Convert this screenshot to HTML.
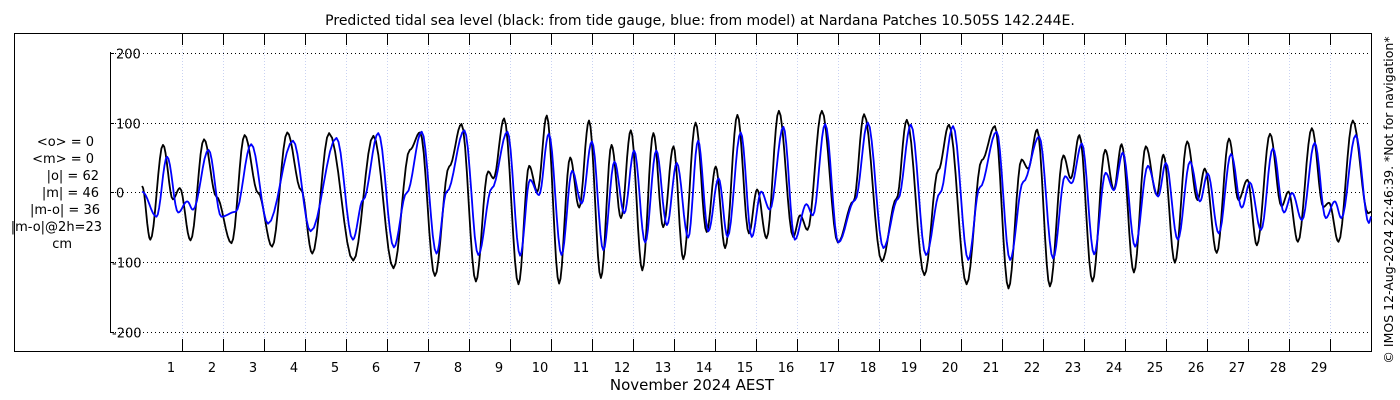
<!DOCTYPE html>
<html><head><meta charset="utf-8"><style>
body{margin:0;background:#fff}
svg{display:block;font-family:"DejaVu Sans","Liberation Sans",sans-serif}
</style></head><body>
<svg id="chart" width="1400" height="400" viewBox="0 0 1400 400" xmlns="http://www.w3.org/2000/svg">
<text x="700" y="25" font-size="14" text-anchor="middle">Predicted tidal sea level (black: from tide gauge, blue: from model) at Nardana Patches 10.505S 142.244E.</text>
<rect x="14.5" y="33.5" width="1357" height="318" fill="none" stroke="#000" stroke-width="1"/>
<g id="grid"></g>
<line x1="110.5" y1="52" x2="110.5" y2="332" stroke="#000"/>
<g id="ticks"></g>
<g id="series"></g>
<g font-size="13" text-anchor="end">
<text x="94" y="146">&lt;o&gt; = 0</text>
<text x="94" y="163">&lt;m&gt; = 0</text>
<text x="99" y="180">|o| = 62</text>
<text x="99" y="197">|m| = 46</text>
<text x="100" y="214">|m-o| = 36</text>
<text x="102" y="231">|m-o|@2h=23</text>
<text x="72" y="248">cm</text>
</g>
<text x="692" y="390" font-size="15" text-anchor="middle">November 2024 AEST</text>
<text transform="translate(1393,200) rotate(-90)" font-size="12.5" text-anchor="middle">© IMOS 12-Aug-2024 22:46:39. *Not for navigation*</text>
</svg>
<script>
const yTicks=[200,100,0,-100,-200];
const dayLabels=[1,2,3,4,5,6,7,8,9,10,11,12,13,14,15,16,17,18,19,20,21,22,23,24,25,26,27,28,29];
// black (gauge) extrema: time in days from Nov 1 00:00, value cm
const obsT=[0.02,0.22,0.53,0.77,0.94,1.20,1.53,1.83,2.20,2.52,2.85,3.19,3.56,3.90,4.17,4.58,5.17,5.66,6.15,6.55,6.80,7.16,7.51,7.81,8.16,8.46,8.59,8.85,9.20,9.46,9.66,9.89,10.19,10.46,10.68,10.92,11.21,11.47,11.70,11.94,12.22,12.49,12.73,12.98,13.22,13.52,13.79,14.01,14.24,14.54,14.82,15.02,15.25,15.55,15.90,16.07,16.25,16.60,16.99,17.37,17.63,18.06,18.42,18.67,19.10,19.44,19.70,20.13,20.50,20.82,21.15,21.47,21.63,21.85,22.16,22.49,22.67,22.88,23.20,23.51,23.72,23.91,24.21,24.50,24.77,24.93,25.21,25.51,25.76,25.94,26.23,26.53,26.76,26.98,27.21,27.53,27.81,27.98,28.21,28.55,28.83,28.97,29.20,29.55,29.92,30.0];
const obsV=[9,-68,68,-10,6,-69,76,-6,-73,82,-1,-78,86,3,-88,85,-98,81,-109,61,86,-120,37,98,-128,30,20,106,-132,38,1,110,-131,50,-22,103,-123,68,-37,89,-112,85,-50,66,-96,100,-57,37,-80,111,-59,4,-66,117,-64,-33,-54,117,-72,-13,112,-99,-9,104,-119,32,97,-132,46,95,-138,47,34,90,-135,53,20,82,-128,61,4,69,-115,66,-4,54,-101,73,-11,34,-87,77,-11,18,-76,84,-20,1,-71,92,-21,-15,-71,103,-30,-28];
// blue (model) extrema
const modT=[0.02,0.37,0.63,0.90,1.12,1.26,1.64,1.95,2.30,2.68,3.09,3.70,4.13,4.76,5.16,5.41,5.78,6.16,6.47,6.84,7.20,7.45,7.88,8.22,8.55,8.93,9.24,9.48,9.70,9.94,10.25,10.51,10.74,10.99,11.27,11.54,11.78,12.02,12.29,12.56,12.82,13.06,13.34,13.58,13.83,14.08,14.30,14.62,14.89,15.12,15.33,15.66,15.94,16.22,16.38,16.68,17.00,17.41,17.72,18.10,18.46,18.77,19.14,19.48,19.80,20.17,20.45,20.86,21.19,21.51,21.90,22.24,22.53,22.69,22.94,23.24,23.52,23.72,23.94,24.24,24.55,24.80,24.99,25.28,25.58,25.82,26.01,26.28,26.58,26.84,27.04,27.31,27.60,27.87,28.07,28.31,28.62,28.89,29.11,29.27,29.62,29.94,30.0];
const modV=[1,-35,51,-29,-13,-25,61,-35,-28,69,-45,74,-56,78,-68,-11,85,-79,-1,87,-88,1,89,-90,6,87,-91,18,-4,84,-90,31,-16,73,-83,44,-30,60,-72,60,-47,42,-65,74,-56,20,-64,86,-64,1,-25,94,-68,-17,-33,98,-72,-11,100,-80,-9,97,-90,-1,95,-97,7,87,-97,15,80,-95,23,13,70,-89,28,3,57,-78,38,-6,42,-68,44,-13,27,-59,55,-22,14,-54,63,-29,-1,-40,71,-37,-13,-37,82,-44,-35];

const NS='http://www.w3.org/2000/svg';
const X0=141.3, DX=41.0, Y0=192.3, SY=0.697;
const xs=t=>X0+t*DX;
const ys=v=>Y0-v*SY;
function mk(tag,attrs,parent){const e=document.createElementNS(NS,tag);for(const k in attrs)e.setAttribute(k,attrs[k]);parent.appendChild(e);return e;}
const grid=document.getElementById('grid'), ticks=document.getElementById('ticks'), series=document.getElementById('series');
for(let d=1; d<30; d++){
  const x=Math.round(xs(d))+0.5;
  const g=mk('line',{x1:x,y1:34,x2:x,y2:351,stroke:'#c9d2f2','stroke-width':1,'stroke-dasharray':'1,2'},grid);
  
  
  const t1=mk('line',{x1:x,y1:33,x2:x,y2:45,stroke:'#000'},ticks);
  
  
  const t2=mk('line',{x1:x,y1:339,x2:x,y2:352,stroke:'#000'},ticks);
  
  
}
dayLabels.forEach(d=>{
  const t=mk('text',{x:xs(d-1)+29.7,y:372,'font-size':13,'text-anchor':'middle'},ticks);
  
  
  t.textContent=d;
});
yTicks.forEach(v=>{
  const y=Math.round(ys(v))+0.5;
  const l=mk('line',{x1:111,y1:y,x2:1371,y2:y,stroke:'#000','stroke-dasharray':'1,3'},grid);
  
  
  const tk=mk('line',{x1:110,y1:y,x2:114,y2:y,stroke:'#000'},ticks);
  
  
  const t=mk('text',{x:v<0?112:116,y:y+5,'font-size':13},ticks);
  
  
  t.textContent=v;
});
function curve(T,V){
  const pts=[];
  for(let i=0;i<T.length-1;i++){
    const n=8;
    for(let k=0;k<n;k++){
      const f=k/n, w=(1-Math.cos(Math.PI*f))/2;
      const t=T[i]+(T[i+1]-T[i])*f, v=V[i]+(V[i+1]-V[i])*w;
      pts.push(xs(t).toFixed(1)+','+ys(v).toFixed(1));
    }
  }
  pts.push(xs(T[T.length-1]).toFixed(1)+','+ys(V[V.length-1]).toFixed(1));
  return pts.join(' ');
}
const pb=mk('polyline',{points:curve(obsT,obsV),fill:'none',stroke:'#000','stroke-width':1.8,'stroke-linejoin':'round'},series);


const pm=mk('polyline',{points:curve(modT,modV),fill:'none',stroke:'#0000ff','stroke-width':1.8,'stroke-linejoin':'round'},series);


</script>
</body></html>
